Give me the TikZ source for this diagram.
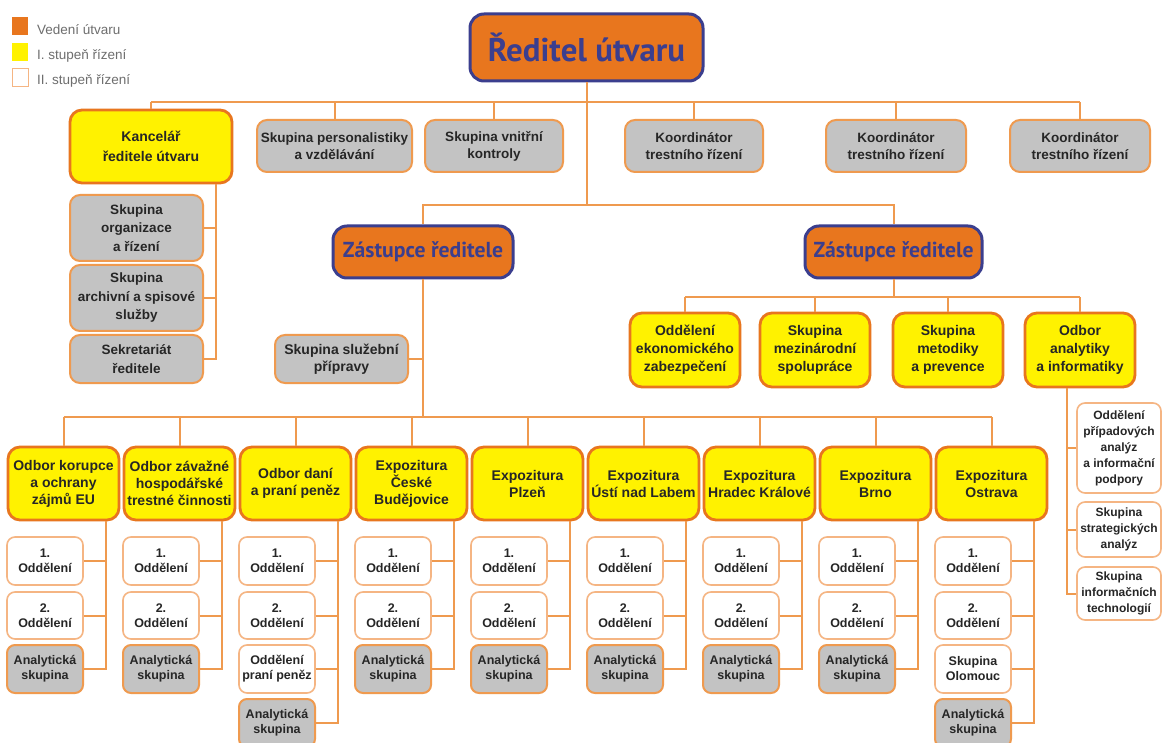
\documentclass[tikz,border=0pt]{standalone}
\usepackage{fontspec}
\usepackage{graphicx}
\setmainfont{Liberation Sans}
\newfontfamily\headfont{PT Sans}
\definecolor{ored}{HTML}{E8761E}
\definecolor{navy}{HTML}{3B3E8E}
\definecolor{yel}{HTML}{FFF200}
\definecolor{gry}{HTML}{C3C3C3}
\definecolor{lineor}{HTML}{EF9A4F}
\definecolor{lightor}{HTML}{F5B583}
\definecolor{txt}{HTML}{262626}
\definecolor{legtxt}{HTML}{6E6E6E}
\newcommand\boxat[6]{\node[#1, minimum width={((#4)-(#2))*1pt}, minimum height={((#5)-(#3))*1pt}] (#6) at ({((#2)+(#4))/2},{((#3)+(#5))/2})}
\tikzset{
  conn/.style={draw=lineor, line width=2pt},
  base/.style={align=center, inner sep=1pt, text=txt},
  lead/.style={base, fill=ored, draw=navy, line width=3pt, rounded corners=14pt, text=navy},
  ybox/.style={base, fill=yel, draw=ored, line width=2.8pt, rounded corners=12pt, font=\bfseries\fontsize{14}{17}\selectfont},
  gbox/.style={base, fill=gry, draw=lineor, line width=2pt, rounded corners=10pt, font=\bfseries\fontsize{13.5}{17}\selectfont},
  wbox/.style={base, fill=white, draw=lightor, line width=1.6pt, rounded corners=8pt, font=\bfseries\fontsize{12.5}{15}\selectfont},
  cgbox/.style={gbox, rounded corners=8pt, font=\bfseries\fontsize{12.5}{15}\selectfont},
  abox/.style={wbox, font=\bfseries\fontsize{12}{16}\selectfont},
  legsq/.style={inner sep=0pt, minimum width=16pt, minimum height=18pt},
  legtext/.style={anchor=west, inner sep=0pt, text=legtxt, font=\fontsize{13.5}{16}\selectfont}
}
\newcommand\column[3]{%
  \boxat{ybox}{#2}{447}{#2+111}{520}{o#1}{#3};
  \boxat{wbox}{#2-1}{537}{#2+75}{585}{o#1a}{1.\\Oddělení};
  \boxat{wbox}{#2-1}{592}{#2+75}{639}{o#1b}{2.\\Oddělení};
  \coordinate (v#1) at ([xshift=-14pt]o#1.south east);
  \draw[conn] (o#1.north) -- (o#1.north |- bus3);
  \draw[conn] (o#1a.east) -- (o#1a.east -| v#1);
  \draw[conn] (o#1b.east) -- (o#1b.east -| v#1);
}
\begin{document}
\begin{tikzpicture}[x=1pt,y=-1pt]
\useasboundingbox (0,0) rectangle (1162,743);
\clip (0,0) rectangle (1162,743);
\fill[white] (0,0) rectangle (1162,743);
\coordinate (bus1) at (0,102);
\coordinate (bus2) at (0,205);
\coordinate (bus3) at (0,417);
\coordinate (bus4) at (0,297);
% legend
\node[legsq, fill=ored] (lg1) at (20,26) {};
\node[legsq, fill=yel] (lg2) at (20,52) {};
\node[legsq, fill=white, draw=lightor, line width=1pt] (lg3) at (20,78) {};
\node[legtext] (lt1) at (37,30) {Vedení útvaru};
\node[legtext] (lt2) at (37,56) {I. stupeň řízení};
\node[legtext] (lt3) at (37,81) {II. stupeň řízení};
% director
\boxat{lead}{470}{14}{703}{81}{dir}{\resizebox{197pt}{!}{\headfont\bfseries Ředitel útvaru}};
% top row
\boxat{ybox, font=\bfseries\fontsize{14}{20}\selectfont}{70}{110}{232}{183}{kanc}{Kancelář\\ředitele útvaru};
\boxat{gbox}{257}{120}{412}{172}{pers}{Skupina personalistiky\\a vzdělávání};
\boxat{gbox}{425}{120}{563}{172}{kontr}{Skupina vnitřní\\kontroly};
\boxat{gbox}{625}{120}{763}{172}{koa}{Koordinátor\\trestního řízení};
\boxat{gbox}{826}{120}{966}{172}{kob}{Koordinátor\\trestního řízení};
\boxat{gbox}{1010}{120}{1150}{172}{koc}{Koordinátor\\trestního řízení};
\draw[conn] (kanc.north |- bus1) -- (koc.north |- bus1);
\foreach \n in {kanc,pers,kontr,koa,kob,koc} \draw[conn] (\n.north) -- (\n.north |- bus1);
\draw[conn] (dir.south) -- (dir.south |- bus2);
% kancelar children
\boxat{gbox, font=\bfseries\fontsize{13.5}{18.5}\selectfont}{70}{195}{203}{261}{korg}{Skupina\\organizace\\a řízení};
\boxat{gbox, font=\bfseries\fontsize{13.5}{18.5}\selectfont}{70}{265}{203}{331}{karch}{Skupina\\archivní a spisové\\služby};
\boxat{gbox, font=\bfseries\fontsize{13.5}{18.5}\selectfont}{70}{335}{203}{383}{ksek}{Sekretariát\\ředitele};
\coordinate (vk) at (216,0);
\draw[conn] (kanc.south -| vk) |- (ksek.east);
\draw[conn] (korg.east) -- (korg.east -| vk);
\draw[conn] (karch.east) -- (karch.east -| vk);
% deputies
\boxat{lead}{333}{226}{513}{278}{zl}{\resizebox{160pt}{!}{\headfont\bfseries Zástupce ředitele}};
\boxat{lead}{805}{226}{982}{278}{zr}{\resizebox{160pt}{!}{\headfont\bfseries Zástupce ředitele}};
\draw[conn] (zl.north) -- (zl.north |- bus2) -- (zr.north |- bus2) -- (zr.north);
% left deputy
\boxat{gbox, font=\bfseries\fontsize{14}{17}\selectfont}{275}{335}{408}{383}{sluz}{Skupina služební\\přípravy};
\draw[conn] (zl.south) -- (zl.south |- bus3);
\draw[conn] (sluz.east) -- (sluz.east -| zl.south);
% right deputy
\boxat{ybox, font=\bfseries\fontsize{14}{18}\selectfont}{630}{313}{740}{387}{da}{Oddělení\\ekonomického\\zabezpečení};
\boxat{ybox, font=\bfseries\fontsize{14}{18}\selectfont}{760}{313}{870}{387}{db}{Skupina\\mezinárodní\\spolupráce};
\boxat{ybox, font=\bfseries\fontsize{14}{18}\selectfont}{893}{313}{1003}{387}{dc}{Skupina\\metodiky\\a prevence};
\boxat{ybox, font=\bfseries\fontsize{14}{18}\selectfont}{1025}{313}{1135}{387}{dd}{Odbor\\analytiky\\a informatiky};
\draw[conn] (zr.south) -- (zr.south |- bus4);
\draw[conn] (da.north |- bus4) -- (dd.north |- bus4);
\foreach \n in {da,db,dc,dd} \draw[conn] (\n.north) -- (\n.north |- bus4);
% analytics children
\boxat{abox}{1077}{403}{1161}{493}{ana}{Oddělení\\případových\\analýz\\a informační\\podpory};
\boxat{abox}{1077}{502}{1161}{557}{anb}{Skupina\\strategických\\analýz};
\boxat{abox}{1077}{567}{1161}{620}{anc}{Skupina\\informačních\\technologií};
\coordinate (va) at (1067,0);
\draw[conn] (dd.south -| va) |- (anc.west);
\draw[conn] (ana.west) -- (ana.west -| va);
\draw[conn] (anb.west) -- (anb.west -| va);
% bottom columns
\column{1}{8}{Odbor korupce\\a ochrany\\zájmů EU}
\column{2}{124}{Odbor závažné\\hospodářské\\trestné činnosti}
\column{3}{240}{Odbor daní\\a praní peněz}
\column{4}{356}{Expozitura\\České\\Budějovice}
\column{5}{472}{Expozitura\\Plzeň}
\column{6}{588}{Expozitura\\Ústí nad Labem}
\column{7}{704}{Expozitura\\Hradec Králové}
\column{8}{820}{Expozitura\\Brno}
\column{9}{936}{Expozitura\\Ostrava}
\draw[conn] (o1.north |- bus3) -- (o9.north |- bus3);
% third rows
\boxat{cgbox}{7}{645}{83}{693}{o1c}{Analytická\\skupina};
\boxat{cgbox}{123}{645}{199}{693}{o2c}{Analytická\\skupina};
\boxat{wbox}{239}{645}{315}{693}{o3c}{Oddělení\\praní peněz};
\boxat{cgbox}{239}{699}{315}{747}{o3d}{Analytická\\skupina};
\boxat{cgbox}{355}{645}{431}{693}{o4c}{Analytická\\skupina};
\boxat{cgbox}{471}{645}{547}{693}{o5c}{Analytická\\skupina};
\boxat{cgbox}{587}{645}{663}{693}{o6c}{Analytická\\skupina};
\boxat{cgbox}{703}{645}{779}{693}{o7c}{Analytická\\skupina};
\boxat{cgbox}{819}{645}{895}{693}{o8c}{Analytická\\skupina};
\boxat{wbox}{935}{645}{1011}{693}{o9c}{Skupina\\Olomouc};
\boxat{cgbox}{935}{699}{1011}{747}{o9d}{Analytická\\skupina};
\foreach \i in {1,2,4,5,6,7,8} \draw[conn] (v\i) |- (o\i c.east);
\draw[conn] (v3) |- (o3d.east);
\draw[conn] (o3c.east) -- (o3c.east -| v3);
\draw[conn] (v9) |- (o9d.east);
\draw[conn] (o9c.east) -- (o9c.east -| v9);
\end{tikzpicture}
\end{document}
